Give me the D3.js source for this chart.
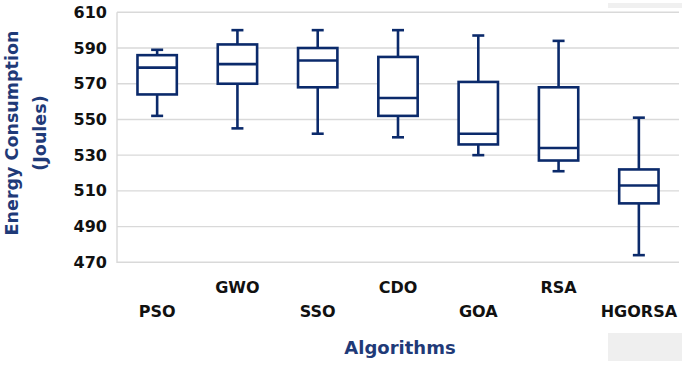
<!DOCTYPE html>
<html>
<head>
<meta charset="utf-8">
<script src="https://cdn.jsdelivr.net/npm/d3@7"></script>
<style>
  html, body { margin: 0; padding: 0; background: #fff; }
</style>
</head>
<body>
<div id="boxChart"></div>
<script>
// box plot values
const algorithms = ['PSO', 'GWO', 'SSO', 'CDO', 'GOA', 'RSA', 'HGORSA'];
const mins    = [552, 545, 542, 540, 530, 521, 474];
const q1s     = [564, 570, 568, 552, 536, 527, 503];
const medians = [579, 581, 583, 562, 542, 534, 513];
const q3s     = [586, 592, 590, 585, 571, 568, 522];
const maxs    = [589, 600, 600, 600, 597, 594, 551];
const yTicks  = [470, 490, 510, 530, 550, 570, 590, 610];

let width = 685;
let height = 365;
let margin = { top: 12.3, bottom: 102.7, left: 117, right: 6 };

let boxColor = '#0b2a6b';
let titleColor = '#1f3a78';
let gridColor = '#d9d9d9';
let font = "'DejaVu Sans', sans-serif";

let data = algorithms.map((a, i) => ({
  name: a, min: mins[i], q1: q1s[i], med: medians[i], q3: q3s[i], max: maxs[i]
}));

let svg = d3.select('#boxChart')
  .append('svg')
  .attr('width', width)
  .attr('height', height)
  .style('display', 'block')
  .style('background-color', '#fff');

let xScale = d3.scaleBand()
  .domain(algorithms)
  .range([margin.left, width - margin.right])
  .paddingInner(0.51)
  .paddingOuter(0.255);

let yScale = d3.scaleLinear()
  .domain([470, 610])
  .range([height - margin.bottom, margin.top]);

// grid lines
svg.append('g')
  .selectAll('line')
  .data(yTicks)
  .enter().append('line')
  .attr('x1', margin.left)
  .attr('x2', width - margin.right)
  .attr('y1', d => yScale(d))
  .attr('y2', d => yScale(d))
  .attr('stroke', gridColor)
  .attr('stroke-width', 1.4);

// left axis line
svg.append('line')
  .attr('x1', margin.left).attr('x2', margin.left)
  .attr('y1', yScale(610)).attr('y2', yScale(470) + 0.7)
  .attr('stroke', gridColor)
  .attr('stroke-width', 1.4);

// y tick labels
let yAxis = svg.append('g')
  .attr('transform', `translate(${margin.left - 10},0)`)
  .call(d3.axisLeft(yScale).tickValues(yTicks).tickSize(0).tickPadding(0).tickFormat(d3.format('d')));
yAxis.select('.domain').remove();
yAxis.selectAll('text')
  .style('font', `bold 16px ${font}`)
  .style('fill', '#111');

// x labels, staggered on two rows
let xAxis = svg.append('g')
  .attr('transform', `translate(0,${height - margin.bottom})`)
  .call(d3.axisBottom(xScale).tickSize(0));
xAxis.select('.domain').remove();
xAxis.selectAll('text')
  .attr('y', (d, i) => i % 2 === 0 ? 55 : 31)
  .attr('dy', 0)
  .style('font', `bold 16px ${font}`)
  .style('fill', '#111');

// axis titles
svg.append('text')
  .attr('x', 400)
  .attr('y', 354)
  .attr('text-anchor', 'middle')
  .style('font', `bold 18px ${font}`)
  .style('fill', titleColor)
  .text('Algorithms');

let yTitle = svg.append('text')
  .attr('transform', 'translate(0,133) rotate(-90)')
  .attr('text-anchor', 'middle')
  .style('font', `bold 17.5px ${font}`)
  .style('fill', titleColor);
yTitle.append('tspan').attr('x', 0).attr('y', 18).text('Energy Consumption');
yTitle.append('tspan').attr('x', 0).attr('y', 46).text('(Joules)');

// boxes
let bw = xScale.bandwidth();
let capW = 12;
let g = svg.selectAll('.box')
  .data(data)
  .enter().append('g')
  .attr('class', 'box')
  .attr('fill', 'none')
  .attr('stroke', boxColor)
  .attr('stroke-width', 2.6);

g.append('line')
  .attr('x1', d => xScale(d.name) + bw / 2)
  .attr('x2', d => xScale(d.name) + bw / 2)
  .attr('y1', d => yScale(d.max))
  .attr('y2', d => yScale(d.q3));

g.append('line')
  .attr('x1', d => xScale(d.name) + bw / 2)
  .attr('x2', d => xScale(d.name) + bw / 2)
  .attr('y1', d => yScale(d.q1))
  .attr('y2', d => yScale(d.min));

g.append('line')
  .attr('x1', d => xScale(d.name) + bw / 2 - capW / 2)
  .attr('x2', d => xScale(d.name) + bw / 2 + capW / 2)
  .attr('y1', d => yScale(d.max))
  .attr('y2', d => yScale(d.max));

g.append('line')
  .attr('x1', d => xScale(d.name) + bw / 2 - capW / 2)
  .attr('x2', d => xScale(d.name) + bw / 2 + capW / 2)
  .attr('y1', d => yScale(d.min))
  .attr('y2', d => yScale(d.min));

g.append('rect')
  .attr('x', d => xScale(d.name))
  .attr('y', d => yScale(d.q3))
  .attr('width', bw)
  .attr('height', d => yScale(d.q1) - yScale(d.q3))
  .attr('fill', '#fff');

g.append('line')
  .attr('x1', d => xScale(d.name))
  .attr('x2', d => xScale(d.name) + bw)
  .attr('y1', d => yScale(d.med))
  .attr('y2', d => yScale(d.med));

// faint grey patches seen in the corners of the original
svg.append('rect')
  .attr('x', 608).attr('y', 3).attr('width', 74).attr('height', 5)
  .attr('fill', '#f0f0f0');
svg.append('rect')
  .attr('x', 608).attr('y', 333).attr('width', 74).attr('height', 28)
  .attr('fill', '#efefef');
</script>
</body>
</html>
